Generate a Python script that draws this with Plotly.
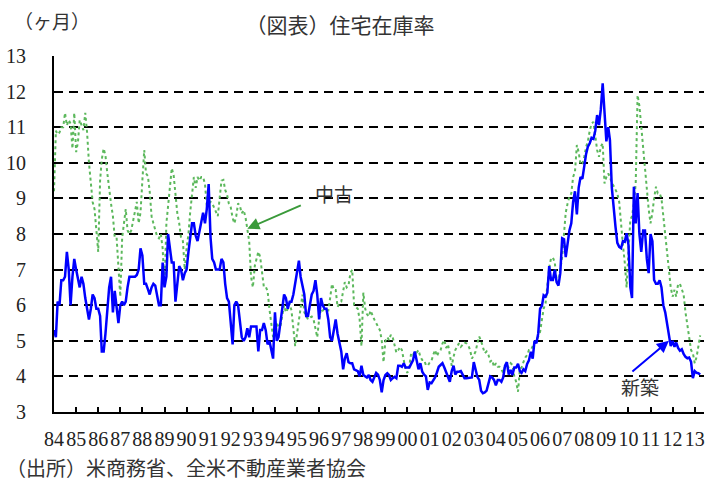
import pandas as pd
import plotly.graph_objects as go

# Monthly months' supply, Jan 1984 onward
new_home = [
    5.3, 5.1, 6.1, 6.0, 6.7, 6.7, 6.8, 7.5, 7.0, 6.0, 6.8, 7.3,
    7.0, 6.7, 6.5, 6.8, 6.6, 6.2, 5.9, 5.6, 5.9, 6.3, 6.2, 5.9,
    5.9, 5.7, 4.7, 4.7, 5.2, 5.8, 6.5, 6.8, 5.8, 6.4, 5.9, 5.5,
    6.0, 6.1, 6.0, 6.1, 6.5, 6.8, 6.8, 6.8, 6.8, 6.85, 7.0, 7.6,
    7.4, 6.6, 6.6, 6.45, 6.3, 6.5, 6.6, 6.55, 6.3, 6.0, 6.0, 7.2,
    6.5, 6.8, 8.0, 7.6, 7.2, 7.2, 6.1, 6.6, 7.1, 7.0, 6.7, 6.9,
    7.0, 7.5, 7.9, 8.3, 8.3, 7.95, 7.8, 8.1, 8.3, 8.6, 8.3, 8.7,
    9.4, 7.9, 7.3, 7.2, 7.0, 7.0, 7.0, 7.3, 7.2, 6.6, 6.2, 6.1,
    5.4, 4.9, 6.0, 6.1, 6.0, 5.5, 5.1, 5.0, 5.1, 5.35, 5.1, 5.4,
    5.4, 5.4, 5.4, 4.7, 5.3, 5.3, 5.5, 5.3, 4.9, 5.0, 4.75, 4.5,
    5.8, 5.0, 5.1, 5.5, 5.85, 6.3, 6.2, 5.9, 6.1, 6.1, 6.3, 6.6,
    6.95, 7.25, 6.8, 6.5, 6.3, 5.7, 5.7, 6.0, 6.3, 6.4, 6.7, 6.3,
    5.6, 6.2, 6.0, 5.9, 5.9, 5.6, 5.1, 5.0, 5.3, 5.6, 5.2, 4.9,
    4.7, 4.2, 4.5, 4.65, 4.4, 4.37, 4.37, 4.2, 4.18, 4.15, 4.0, 4.3,
    4.04, 4.0, 3.97, 4.04, 3.9, 3.85, 4.0, 4.1, 4.05, 3.9,
    3.55, 3.9, 4.04, 4.09, 4.04, 3.9, 3.95, 3.99, 3.95, 4.3, 4.3, 4.27,
    4.37, 4.25, 4.25, 4.25, 4.35, 4.45, 4.7, 4.45, 4.2, 4.37, 4.13, 4.05,
    4.0, 3.62, 3.83, 3.81, 3.88, 3.97, 4.11, 4.27, 4.32, 4.37, 4.25, 4.1,
    3.95, 3.85, 4.15, 4.3, 4.05, 4.13, 4.13, 4.15, 4.05, 3.95, 3.95, 3.95,
    3.95, 3.97, 4.4, 4.18, 3.99, 3.9, 3.6, 3.53, 3.55, 3.6, 3.81, 4.0,
    3.97, 3.9, 3.75, 3.9, 3.9, 3.85, 3.97, 4.3, 4.4, 4.05, 4.18, 4.04,
    4.25, 4.25, 4.35, 4.15, 4.1, 4.2, 4.15, 4.35, 4.45,
    4.69, 4.5, 5.0, 4.93, 5.2, 5.9, 5.98, 6.28, 6.24, 6.35, 7.1, 6.71,
    6.71, 7.0, 6.65, 6.55, 6.9, 7.88, 7.85, 7.35, 7.75, 8.1, 8.3, 8.9,
    9.2, 8.55, 9.3, 9.6, 9.55, 9.98, 10.25, 10.45, 10.55, 10.7, 10.67, 10.9,
    11.34, 11.06, 11.5, 12.23, 11.3, 10.6, 11.0, 10.64, 9.3, 8.7, 8.2, 7.75,
    7.64, 7.6, 7.8, 7.78, 8.02, 7.7, 6.5, 6.2, 9.33, 8.3, 9.15, 8.0,
    7.5, 8.1, 8.1, 7.3, 6.9, 8.0, 7.8, 6.71, 6.6, 6.6, 6.7, 6.5,
    6.0, 5.8, 5.5, 5.2, 4.85, 5.0, 4.83, 4.95, 4.8, 4.72, 4.76, 4.63,
    4.55, 4.51, 4.53, 4.41, 3.95, 4.15, 4.1, 4.09, 4.05,
]

existing_home = [
    9.2, 10.9, 10.8, 10.85, 11.0, 11.0, 11.4, 11.05, 11.2, 11.1, 10.4, 11.4,
    10.3, 10.6, 11.2, 11.06, 10.92, 11.4, 10.85, 10.0, 9.3, 8.9, 8.7, 8.0,
    7.5, 9.5, 10.1, 10.4, 10.2, 9.7, 9.2, 8.85, 8.5, 7.9, 7.9, 7.1,
    6.24, 7.9, 8.3, 8.7, 8.1, 8.0, 8.1, 8.4, 8.6, 8.9, 8.3, 8.6,
    9.5, 10.36, 9.7, 9.63, 9.2, 8.5, 8.3, 8.1, 7.93, 7.88, 8.0, 7.6,
    6.5, 8.3, 8.8, 9.45, 9.85, 9.65, 9.05, 8.58, 8.3, 7.9, 7.8, 7.0,
    7.6, 8.0, 8.6, 9.1, 9.6, 9.3, 9.6, 9.5, 9.6, 9.6, 9.4, 8.8,
    8.85, 8.9, 8.86, 8.75, 8.65, 8.5, 9.0, 9.5, 9.52, 9.24, 9.1, 8.85,
    8.75, 8.45, 8.3, 8.5, 8.86, 8.78, 8.58, 8.67, 8.47, 8.15, 7.8, 6.8,
    6.5, 7.1, 7.3, 7.5, 7.36, 6.95, 6.52, 6.52, 6.4, 5.9, 5.4, 5.1,
    5.25, 5.5, 5.4, 5.4, 5.7, 6.0, 5.8, 5.9, 6.05, 5.85, 5.35, 4.85,
    5.2, 5.6, 6.05, 6.3, 5.8, 5.7, 5.6, 5.65, 5.68, 5.6, 5.3, 5.1,
    5.6, 5.9, 5.85, 5.9, 5.85, 5.85, 6.2, 6.6, 6.43, 6.43, 5.95, 6.05,
    6.1, 6.4, 6.65, 6.5, 6.55, 6.9, 7.0, 6.0, 5.96, 5.9, 5.6, 4.85,
    6.35, 5.9, 5.75, 5.68, 5.85, 5.7, 5.6, 5.5, 5.4, 5.3,
    5.02, 4.4, 5.0, 5.1, 5.02, 5.17, 5.1, 4.86, 4.67, 4.74, 4.83, 4.74,
    4.46, 4.18, 4.1, 4.3, 4.65, 4.6, 4.7, 4.67, 4.74, 4.55, 4.46, 4.46,
    4.32, 4.3, 4.39, 4.44, 4.6, 4.74, 4.57, 4.69, 4.74, 4.92, 5.02, 4.8,
    4.9, 4.6, 4.3, 4.55, 4.74, 4.83, 4.93, 4.83, 4.9, 4.95, 4.93, 4.88,
    4.74, 4.5, 4.6, 4.7, 4.93, 5.12, 5.0, 4.8, 4.65, 4.7, 4.6, 4.42,
    4.46, 4.27, 4.37, 4.27, 4.27, 4.2, 4.1, 4.3, 4.3, 4.27, 4.37, 4.32,
    4.0, 3.85, 3.57, 4.2, 4.25, 4.4, 4.53, 4.6, 4.74,
    4.74, 4.85, 4.95, 5.0, 5.1, 5.25, 5.6, 5.9, 6.05, 6.6, 7.05, 7.32,
    7.34, 7.2, 6.7, 6.65, 6.99, 7.36, 8.02, 8.6, 8.86, 9.05, 9.14, 9.6,
    9.75, 10.5, 10.3, 9.95, 9.98, 10.17, 10.45, 10.6, 10.9, 11.1, 11.15, 10.8,
    10.36, 10.17, 10.45, 10.55, 9.42, 9.6, 9.7, 9.6, 9.43, 9.35, 9.24, 9.14,
    8.9, 8.2, 7.7, 7.2, 6.5, 7.5, 8.4, 8.5, 8.86, 9.42, 11.9, 11.6,
    11.0, 10.45, 9.98, 9.4, 8.7, 8.3, 8.6, 9.0, 9.33, 9.14, 9.14, 9.0,
    8.5, 8.0, 7.6, 7.1, 6.5, 6.24, 6.43, 6.24, 6.6, 6.6, 6.43, 6.3,
    5.8, 5.4, 5.02, 4.74, 4.65, 4.37, 4.55, 4.83, 5.15,
]

years = list(range(1984, 2014))
year_labels = [f"{y % 100:02d}" for y in years]
y_ticks = list(range(3, 14))

title_text = "（図表）住宅在庫率"
unit_text = "（ヶ月）"
source_text = "（出所）米商務省、全米不動産業者協会"
label_existing = "中古"
label_new = "新築"

dates_new = pd.date_range("1984-01-01", periods=len(new_home), freq="MS")
dates_existing = pd.date_range("1984-01-01", periods=len(existing_home), freq="MS")

JP = "Noto Sans CJK JP"
SERIF = "Liberation Serif"

fig = go.Figure()
fig.add_trace(go.Scatter(
    x=dates_existing, y=existing_home, mode="lines", name=label_existing,
    line=dict(color="#5cb85c", width=2, dash="dot"), hoverinfo="skip",
))
fig.add_trace(go.Scatter(
    x=dates_new, y=new_home, mode="lines", name=label_new,
    line=dict(color="#0000ff", width=2.5), hoverinfo="skip",
))

annotations = [
    dict(text=unit_text, xref="paper", yref="paper", x=-0.0646, y=1.101,
         xanchor="left", yanchor="middle", showarrow=False,
         font=dict(family=JP, size=19, color="#333333")),
    dict(text=source_text, xref="paper", yref="paper", x=-0.0769, y=-0.157,
         xanchor="left", yanchor="middle", showarrow=False,
         font=dict(family=JP, size=20, color="#333333")),
    # 中古 arrow
    dict(text="", x=dates_existing[105], y=existing_home[105], xref="x", yref="y",
         showarrow=True, ax=55, ay=-24, arrowhead=2, arrowsize=1.2,
         arrowwidth=2, arrowcolor="#3a9a3a"),
    dict(text=label_existing, xref="paper", yref="paper", x=0.431, y=0.615,
         xanchor="center", yanchor="middle", showarrow=False,
         font=dict(family=JP, size=19, color="#333333")),
    # 新築 arrow
    dict(text="", x=dates_new[334], y=5.0, xref="x", yref="y",
         showarrow=True, ax=-38, ay=32, arrowhead=2, arrowsize=1.2,
         arrowwidth=2, arrowcolor="#0000ff"),
    dict(text=label_new, xref="paper", yref="paper", x=0.9015, y=0.073,
         xanchor="center", yanchor="middle", showarrow=False,
         font=dict(family=JP, size=19, color="#333333")),
]

fig.update_layout(
    width=707, height=481,
    margin=dict(l=54, r=3, t=56, b=69, autoexpand=False),
    paper_bgcolor="white", plot_bgcolor="white",
    showlegend=False,
    title=dict(text=title_text, x=340 / 707, xref="container", xanchor="center",
               y=1 - 26 / 481, yref="container", yanchor="middle",
               font=dict(family=JP, size=21, color="#333333")),
    annotations=annotations,
    hovermode=False,
)

fig.update_xaxes(
    type="date",
    range=["1984-01-01", "2013-06-03"],
    tickvals=[f"{y}-01-01" for y in years],
    ticktext=year_labels,
    tickangle=0,
    automargin=False,
    ticks="inside", ticklen=5, tickwidth=1.5, tickcolor="black",
    showgrid=False, zeroline=False,
    showline=True, linecolor="black", linewidth=2,
    tickfont=dict(family=SERIF, size=20, color="#222222"),
    ticklabelstandoff=8,
)
fig.update_yaxes(
    range=[3, 13],
    tickvals=y_ticks,
    automargin=False,
    ticks="",
    showgrid=True, gridcolor="black", gridwidth=2, griddash="9px,6px",
    zeroline=False,
    showline=True, linecolor="black", linewidth=2,
    tickfont=dict(family=SERIF, size=20, color="#222222"),
    ticklabelstandoff=22,
)

fig.write_html(
    "out.html",
    config={"displayModeBar": False},
    post_script="document.body.style.margin='0px';document.body.style.overflow='hidden';",
)
